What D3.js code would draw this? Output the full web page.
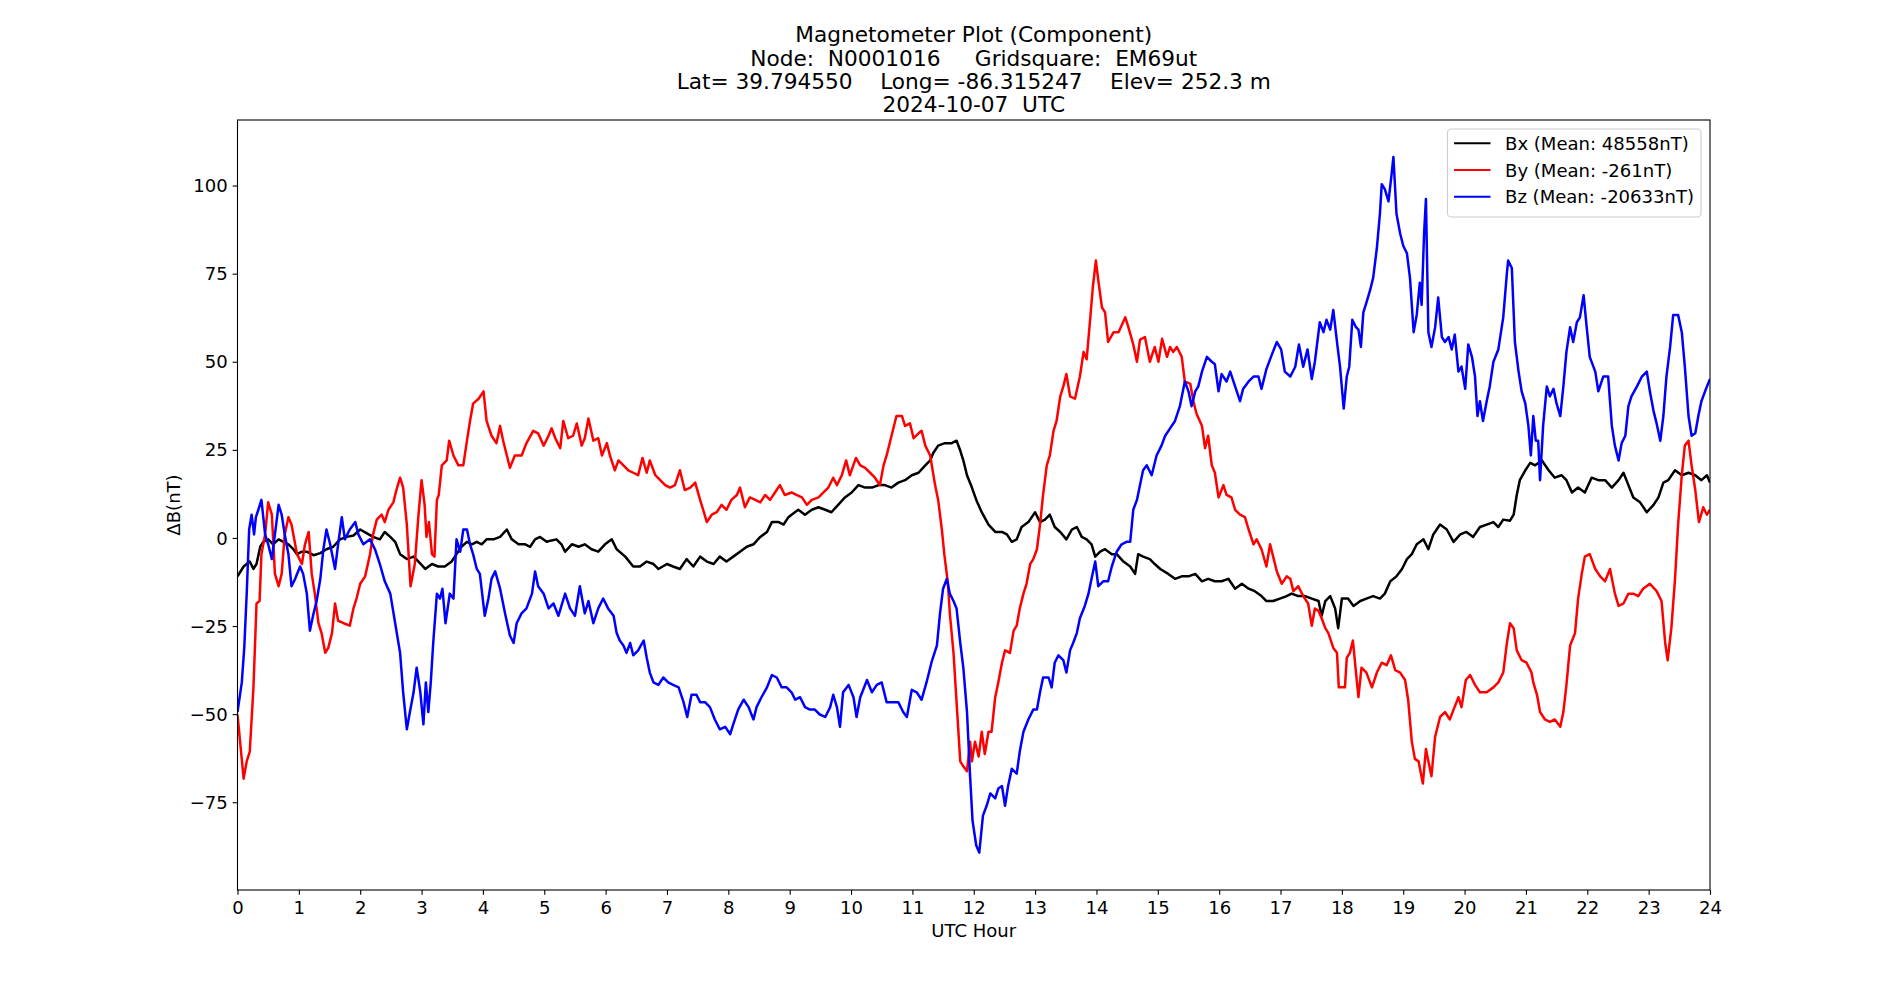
<!DOCTYPE html>
<html>
<head>
<meta charset="utf-8">
<script src="https://cdn.jsdelivr.net/npm/d3@7"></script>
<style>
  html, body { margin: 0; padding: 0; background: #ffffff; }
  svg text { font-family: "DejaVu Sans", sans-serif; fill: #000; }
</style>
</head>
<body>
<svg id="chart" width="1900" height="1000"></svg>
<script>
// ---------------- DATA ----------------
const titleLines = [
  "Magnetometer Plot (Component)",
  "Node:  N0001016     Gridsquare:  EM69ut",
  "Lat= 39.794550    Long= -86.315247    Elev= 252.3 m",
  "2024-10-07  UTC"
];
const xLabel = "UTC Hour";
const yLabel = "\u0394B(nT)";
const xTicks = d3.range(0, 25, 1);
const yTicks = [-75, -50, -25, 0, 25, 50, 75, 100];
const seriesNames = ["Bx (Mean: 48558nT)", "By (Mean: -261nT)", "Bz (Mean: -20633nT)"];
const seriesColors = ["#000000", "#ff0000", "#0000ff"];

// [UTC hour, delta B (nT)]
const bx = [[0.00,-10.9],[0.10,-8.1],[0.20,-6.7],[0.26,-8.8],[0.31,-7.4],[0.37,-2.5],[0.42,-1.1],[0.50,-0.4],[0.58,-1.8],[0.67,-0.4],[0.75,-1.1],[0.83,-1.8],[0.91,-3.2],[0.97,-4.6],[1.05,-3.9],[1.13,-3.9],[1.24,-4.9],[1.35,-4.3],[1.45,-3.2],[1.56,-2.5],[1.67,-0.4],[1.78,0.3],[1.89,0.7],[2.00,2.4],[2.11,1.3],[2.21,0.3],[2.32,-0.4],[2.40,1.7],[2.49,0.3],[2.57,-1.1],[2.65,-4.6],[2.76,-6.0],[2.87,-5.3],[2.95,-6.7],[3.06,-8.8],[3.17,-7.4],[3.27,-8.1],[3.38,-8.1],[3.49,-6.7],[3.57,-4.6],[3.65,-2.5],[3.74,-1.1],[3.82,-1.8],[3.90,-1.1],[3.98,-1.8],[4.06,-0.4],[4.17,-0.4],[4.28,0.3],[4.39,2.4],[4.47,-0.4],[4.58,-1.8],[4.69,-1.8],[4.77,-2.5],[4.85,-0.4],[4.93,0.3],[5.04,-1.1],[5.12,-0.7],[5.20,-0.4],[5.28,-1.8],[5.34,-3.9],[5.45,-1.8],[5.56,-2.5],[5.66,-1.8],[5.77,-3.2],[5.88,-3.9],[5.99,-1.8],[6.10,-0.4],[6.18,-3.2],[6.32,-5.3],[6.45,-8.1],[6.56,-8.1],[6.67,-6.7],[6.78,-7.4],[6.86,-8.8],[7.00,-7.4],[7.10,-8.1],[7.21,-8.8],[7.32,-6.0],[7.43,-8.1],[7.54,-5.3],[7.65,-6.7],[7.76,-7.4],[7.86,-5.3],[7.97,-6.7],[8.08,-5.3],[8.19,-3.9],[8.30,-2.5],[8.41,-1.8],[8.52,0.3],[8.63,1.7],[8.71,4.5],[8.82,4.5],[8.90,3.8],[8.98,5.9],[9.03,6.6],[9.14,8.0],[9.25,6.6],[9.36,8.0],[9.47,8.7],[9.58,8.0],[9.68,7.3],[9.79,9.4],[9.90,11.5],[10.01,12.9],[10.12,15.0],[10.23,14.3],[10.34,14.3],[10.45,15.0],[10.55,15.0],[10.66,14.3],[10.77,15.7],[10.88,16.4],[10.99,17.8],[11.10,18.5],[11.21,20.6],[11.29,22.0],[11.34,24.1],[11.42,26.2],[11.53,26.9],[11.64,26.9],[11.72,27.6],[11.78,24.8],[11.83,22.0],[11.89,17.8],[11.97,14.3],[12.05,10.4],[12.13,7.3],[12.24,3.8],[12.35,1.7],[12.46,1.7],[12.54,1.0],[12.62,-1.1],[12.70,-0.4],[12.78,3.1],[12.89,4.5],[13.00,7.3],[13.08,4.5],[13.16,5.2],[13.24,6.6],[13.32,3.1],[13.41,1.7],[13.51,-0.4],[13.60,2.4],[13.68,3.1],[13.76,0.3],[13.84,-0.4],[13.92,-1.8],[13.98,-5.3],[14.06,-3.9],[14.14,-3.2],[14.25,-4.6],[14.33,-4.6],[14.44,-6.7],[14.55,-8.1],[14.63,-10.2],[14.68,-4.6],[14.76,-5.3],[14.87,-6.0],[14.95,-7.4],[15.04,-8.8],[15.17,-10.2],[15.28,-11.6],[15.39,-10.9],[15.50,-10.9],[15.61,-10.2],[15.72,-12.3],[15.82,-11.6],[15.93,-12.3],[16.04,-12.3],[16.15,-11.6],[16.26,-14.4],[16.37,-13.0],[16.48,-14.4],[16.58,-15.1],[16.69,-16.5],[16.77,-17.9],[16.88,-17.9],[16.99,-17.2],[17.10,-16.5],[17.18,-15.8],[17.29,-16.5],[17.40,-16.5],[17.51,-17.2],[17.62,-17.9],[17.67,-22.1],[17.73,-17.9],[17.81,-16.5],[17.89,-20.0],[17.94,-25.6],[18.00,-17.2],[18.10,-17.2],[18.19,-19.3],[18.30,-17.9],[18.40,-17.2],[18.51,-16.5],[18.62,-17.2],[18.70,-15.8],[18.79,-12.3],[18.89,-10.9],[18.98,-8.8],[19.06,-6.0],[19.14,-4.6],[19.22,-1.8],[19.33,-0.4],[19.41,-3.2],[19.49,1.0],[19.60,3.8],[19.71,2.4],[19.82,-1.1],[19.93,1.0],[20.03,1.7],[20.14,0.3],[20.25,3.1],[20.36,3.8],[20.47,4.5],[20.55,3.1],[20.63,5.2],[20.74,4.9],[20.80,6.6],[20.85,12.2],[20.90,16.4],[20.99,19.2],[21.07,21.3],[21.15,20.6],[21.26,22.0],[21.37,19.2],[21.47,17.1],[21.58,17.8],[21.66,16.4],[21.75,12.9],[21.85,14.3],[21.96,12.9],[22.07,17.1],[22.18,16.4],[22.29,16.4],[22.40,14.3],[22.51,16.4],[22.59,18.5],[22.67,15.0],[22.75,11.5],[22.86,10.1],[22.97,7.3],[23.08,9.4],[23.16,11.5],[23.24,15.7],[23.32,16.4],[23.43,19.2],[23.54,17.8],[23.65,18.5],[23.76,17.8],[23.86,16.4],[23.95,17.8],[24.00,15.7]];

const by = [[0.00,-50.1],[0.10,-68.3],[0.15,-63.4],[0.20,-60.6],[0.26,-42.4],[0.31,-18.6],[0.36,-17.9],[0.39,-4.6],[0.45,1.0],[0.50,10.1],[0.56,6.6],[0.61,-10.2],[0.67,-13.7],[0.72,-10.2],[0.77,1.0],[0.83,5.9],[0.88,3.8],[0.97,-4.6],[1.05,-7.4],[1.10,-1.8],[1.16,1.7],[1.21,-10.2],[1.26,-15.8],[1.32,-24.2],[1.37,-27.0],[1.43,-32.6],[1.48,-31.2],[1.54,-27.0],[1.59,-18.6],[1.64,-23.5],[1.73,-24.2],[1.83,-24.9],[1.89,-20.0],[1.94,-17.2],[2.00,-13.0],[2.08,-10.9],[2.16,-4.6],[2.21,1.0],[2.27,5.2],[2.35,6.6],[2.40,4.5],[2.46,8.0],[2.54,10.1],[2.59,13.6],[2.65,17.1],[2.70,14.3],[2.76,3.8],[2.82,-13.7],[2.89,-7.4],[2.95,6.6],[3.00,16.4],[3.05,9.4],[3.08,0.3],[3.12,4.5],[3.17,-4.6],[3.21,-5.3],[3.25,10.8],[3.28,12.2],[3.33,20.6],[3.41,22.0],[3.45,27.6],[3.52,23.4],[3.60,20.6],[3.68,20.6],[3.74,27.6],[3.79,33.2],[3.84,38.1],[3.93,39.5],[4.01,41.6],[4.06,33.2],[4.14,29.0],[4.22,26.9],[4.28,31.8],[4.33,27.6],[4.39,23.4],[4.44,19.9],[4.52,23.4],[4.63,23.4],[4.71,26.9],[4.82,30.4],[4.90,29.7],[4.99,26.2],[5.07,29.0],[5.12,31.1],[5.18,28.3],[5.26,25.5],[5.31,33.2],[5.39,28.3],[5.47,29.0],[5.53,32.5],[5.61,26.2],[5.66,28.3],[5.72,33.9],[5.80,27.6],[5.88,28.3],[5.94,23.4],[6.02,26.9],[6.07,23.4],[6.15,19.2],[6.21,22.0],[6.29,20.6],[6.37,19.2],[6.45,18.5],[6.53,17.8],[6.60,22.7],[6.67,18.5],[6.72,22.0],[6.81,17.8],[6.89,16.4],[6.97,15.0],[7.05,14.3],[7.13,15.0],[7.21,19.2],[7.29,13.6],[7.38,14.3],[7.46,15.7],[7.54,10.8],[7.59,8.0],[7.65,4.5],[7.73,6.6],[7.81,7.3],[7.89,9.4],[7.97,8.0],[8.05,10.8],[8.14,12.2],[8.19,14.3],[8.27,8.7],[8.35,11.5],[8.44,10.8],[8.52,10.1],[8.60,12.2],[8.68,10.8],[8.76,12.9],[8.84,15.0],[8.92,12.2],[9.03,12.9],[9.11,12.2],[9.20,11.5],[9.28,9.4],[9.36,10.8],[9.47,11.5],[9.55,12.9],[9.63,14.3],[9.71,17.1],[9.77,15.0],[9.85,17.8],[9.92,22.0],[9.98,17.8],[10.08,22.7],[10.15,20.6],[10.23,19.9],[10.31,18.5],[10.39,17.1],[10.47,15.0],[10.53,20.6],[10.58,23.4],[10.66,29.0],[10.74,34.6],[10.83,34.6],[10.88,31.8],[10.96,32.5],[11.02,28.3],[11.10,29.7],[11.15,30.4],[11.21,26.2],[11.29,23.4],[11.37,15.0],[11.42,10.8],[11.48,2.4],[11.52,-4.6],[11.58,-13.0],[11.61,-21.4],[11.67,-32.6],[11.72,-46.6],[11.78,-63.4],[11.83,-64.8],[11.89,-66.2],[11.94,-57.8],[11.97,-63.4],[12.02,-57.8],[12.08,-62.0],[12.13,-55.0],[12.18,-61.3],[12.24,-55.0],[12.29,-55.0],[12.35,-45.2],[12.40,-41.0],[12.46,-35.4],[12.51,-31.9],[12.59,-32.6],[12.65,-26.3],[12.70,-24.9],[12.75,-20.0],[12.81,-15.8],[12.86,-13.0],[12.92,-7.4],[12.97,-6.0],[13.03,-3.2],[13.08,3.8],[13.13,12.2],[13.19,20.6],[13.24,23.4],[13.30,30.4],[13.35,33.2],[13.41,40.2],[13.46,43.0],[13.51,46.5],[13.57,40.2],[13.65,39.5],[13.73,45.8],[13.79,52.8],[13.84,50.7],[13.90,62.6],[13.94,71.0],[13.99,78.7],[14.03,73.1],[14.09,65.4],[14.14,64.0],[14.19,55.6],[14.28,58.4],[14.36,58.4],[14.47,62.6],[14.52,59.8],[14.60,54.9],[14.66,50.0],[14.71,56.3],[14.79,57.0],[14.87,50.0],[14.95,54.2],[15.01,50.0],[15.07,56.5],[15.15,51.4],[15.20,54.2],[15.25,52.8],[15.31,54.2],[15.39,51.4],[15.44,44.4],[15.53,43.7],[15.58,38.8],[15.63,35.3],[15.72,31.8],[15.77,25.5],[15.82,29.0],[15.88,20.6],[15.93,18.5],[15.99,11.5],[16.07,15.0],[16.12,12.2],[16.20,11.5],[16.26,8.0],[16.34,6.6],[16.42,5.9],[16.48,2.4],[16.56,-1.8],[16.61,-0.4],[16.69,-3.2],[16.77,-8.1],[16.83,-1.8],[16.88,-5.3],[16.94,-9.5],[17.02,-13.0],[17.10,-10.9],[17.16,-11.6],[17.21,-15.1],[17.29,-13.7],[17.37,-16.5],[17.45,-18.6],[17.51,-24.9],[17.56,-20.0],[17.62,-20.7],[17.67,-22.8],[17.73,-25.6],[17.78,-27.0],[17.86,-31.2],[17.92,-32.6],[17.95,-42.4],[18.00,-42.4],[18.05,-42.4],[18.08,-34.0],[18.13,-32.6],[18.18,-29.1],[18.23,-38.2],[18.27,-45.2],[18.32,-36.8],[18.40,-38.2],[18.49,-42.4],[18.57,-38.2],[18.65,-35.4],[18.73,-36.1],[18.80,-33.3],[18.87,-37.5],[18.95,-38.2],[19.03,-40.3],[19.08,-45.9],[19.14,-57.8],[19.19,-62.7],[19.25,-63.4],[19.32,-69.7],[19.37,-59.9],[19.41,-63.4],[19.46,-67.6],[19.52,-56.4],[19.60,-50.8],[19.68,-49.4],[19.76,-51.5],[19.82,-48.7],[19.90,-45.2],[19.95,-48.0],[20.02,-40.3],[20.09,-38.9],[20.17,-41.7],[20.25,-43.8],[20.36,-43.8],[20.47,-42.4],[20.55,-41.0],[20.63,-38.2],[20.69,-29.8],[20.74,-24.2],[20.80,-25.6],[20.85,-31.9],[20.93,-34.7],[21.01,-35.4],[21.09,-38.2],[21.12,-41.0],[21.18,-44.5],[21.23,-49.4],[21.31,-51.5],[21.39,-52.2],[21.47,-51.5],[21.56,-53.6],[21.61,-49.4],[21.66,-41.7],[21.72,-30.5],[21.80,-27.0],[21.85,-17.2],[21.91,-10.2],[21.96,-5.3],[22.04,-4.6],[22.13,-8.8],[22.21,-10.9],[22.29,-12.3],[22.37,-8.8],[22.45,-15.8],[22.51,-19.3],[22.59,-18.6],[22.67,-15.8],[22.75,-15.8],[22.83,-16.5],[22.91,-14.4],[23.02,-13.0],[23.13,-15.1],[23.21,-17.9],[23.27,-29.8],[23.31,-34.7],[23.37,-25.6],[23.43,-11.6],[23.48,3.8],[23.54,17.8],[23.59,26.2],[23.65,27.6],[23.70,20.6],[23.76,13.6],[23.82,4.5],[23.89,8.7],[23.95,6.6],[24.00,8.0]];

const bz = [[0.00,-49.4],[0.07,-41.0],[0.11,-31.2],[0.15,-15.8],[0.19,2.4],[0.23,6.6],[0.27,1.0],[0.30,5.9],[0.34,8.0],[0.39,10.8],[0.45,1.0],[0.50,-1.8],[0.56,-6.0],[0.61,1.0],[0.67,9.4],[0.72,6.6],[0.77,1.0],[0.83,-4.6],[0.88,-13.7],[0.94,-11.6],[1.02,-8.1],[1.07,-10.2],[1.13,-15.8],[1.18,-26.3],[1.24,-21.4],[1.29,-17.9],[1.35,-11.6],[1.40,-3.2],[1.45,2.4],[1.51,-1.8],[1.59,-8.8],[1.64,-1.8],[1.70,5.9],[1.75,-0.4],[1.83,2.4],[1.92,4.5],[1.97,1.0],[2.05,-1.8],[2.16,-0.4],[2.24,-3.2],[2.32,-7.4],[2.40,-12.3],[2.49,-15.8],[2.57,-24.2],[2.65,-32.6],[2.70,-43.8],[2.76,-54.3],[2.81,-49.4],[2.87,-43.8],[2.92,-36.8],[2.98,-43.8],[3.03,-52.9],[3.07,-41.0],[3.11,-49.4],[3.15,-41.0],[3.19,-29.8],[3.25,-15.8],[3.30,-17.2],[3.34,-14.4],[3.39,-24.2],[3.46,-15.8],[3.52,-17.2],[3.57,-0.4],[3.63,-3.9],[3.68,2.4],[3.74,2.4],[3.79,-1.8],[3.84,-4.6],[3.90,-8.8],[3.95,-10.2],[4.03,-22.1],[4.09,-17.2],[4.14,-11.6],[4.20,-9.5],[4.28,-14.4],[4.36,-21.4],[4.44,-27.7],[4.50,-29.8],[4.55,-24.2],[4.63,-21.4],[4.71,-20.0],[4.80,-15.8],[4.85,-9.5],[4.90,-13.7],[4.99,-15.8],[5.07,-20.0],[5.15,-18.6],[5.23,-22.1],[5.34,-15.8],[5.42,-20.0],[5.50,-22.1],[5.58,-13.7],[5.66,-21.4],[5.72,-17.9],[5.80,-24.2],[5.88,-20.0],[5.96,-17.2],[6.04,-20.0],[6.13,-22.1],[6.18,-27.0],[6.23,-29.1],[6.29,-30.5],[6.34,-32.6],[6.40,-29.8],[6.45,-33.3],[6.53,-31.9],[6.62,-29.1],[6.67,-34.0],[6.72,-38.2],[6.78,-41.0],[6.86,-41.7],[6.94,-39.6],[7.02,-41.0],[7.10,-41.7],[7.19,-42.4],[7.27,-46.6],[7.33,-50.8],[7.40,-44.5],[7.48,-44.5],[7.54,-46.6],[7.62,-46.6],[7.70,-48.0],[7.78,-51.5],[7.86,-54.3],[7.95,-53.6],[8.03,-55.7],[8.08,-52.9],[8.16,-48.7],[8.25,-45.9],[8.33,-48.0],[8.41,-51.5],[8.46,-48.0],[8.54,-45.2],[8.63,-42.4],[8.71,-38.9],[8.79,-39.6],[8.87,-42.4],[8.95,-42.4],[9.03,-43.8],[9.09,-45.9],[9.17,-45.2],[9.25,-48.0],[9.33,-48.7],[9.41,-48.7],[9.49,-50.1],[9.58,-50.8],[9.66,-48.0],[9.71,-44.5],[9.77,-48.0],[9.82,-53.6],[9.87,-43.8],[9.96,-41.7],[10.04,-45.2],[10.09,-50.8],[10.15,-45.2],[10.26,-40.3],[10.34,-43.8],[10.42,-41.7],[10.50,-41.0],[10.58,-46.6],[10.66,-46.6],[10.77,-46.6],[10.85,-49.4],[10.91,-50.8],[10.99,-43.1],[11.07,-43.8],[11.15,-45.9],[11.23,-41.0],[11.31,-35.4],[11.40,-30.5],[11.45,-21.4],[11.50,-14.4],[11.56,-11.6],[11.61,-15.8],[11.67,-17.9],[11.72,-20.0],[11.78,-29.8],[11.83,-36.8],[11.89,-49.4],[11.94,-67.6],[11.98,-80.2],[12.04,-87.2],[12.09,-89.3],[12.15,-78.8],[12.21,-76.0],[12.27,-72.5],[12.35,-73.9],[12.40,-71.1],[12.46,-70.4],[12.51,-76.0],[12.56,-70.4],[12.62,-65.5],[12.70,-66.9],[12.75,-60.6],[12.81,-55.0],[12.89,-51.5],[12.97,-48.7],[13.03,-48.7],[13.08,-43.8],[13.13,-39.6],[13.22,-39.6],[13.27,-42.4],[13.32,-35.4],[13.38,-33.3],[13.46,-34.7],[13.51,-38.2],[13.57,-31.9],[13.62,-29.8],[13.68,-27.0],[13.73,-22.8],[13.81,-19.3],[13.87,-15.8],[13.92,-11.6],[13.98,-6.7],[14.03,-13.7],[14.11,-12.3],[14.19,-12.3],[14.25,-8.1],[14.33,-3.9],[14.41,-1.8],[14.49,-1.1],[14.55,-1.1],[14.60,8.0],[14.66,10.8],[14.71,15.0],[14.76,19.2],[14.82,20.6],[14.90,17.8],[14.98,23.4],[15.06,26.2],[15.12,29.0],[15.20,31.1],[15.28,33.2],[15.36,37.4],[15.44,44.4],[15.50,41.6],[15.55,37.4],[15.61,41.6],[15.66,43.0],[15.72,47.2],[15.80,51.4],[15.88,50.0],[15.93,49.3],[15.99,41.6],[16.04,46.5],[16.12,44.4],[16.18,47.2],[16.26,43.0],[16.34,38.8],[16.39,42.3],[16.48,44.4],[16.56,45.8],[16.64,45.8],[16.69,42.3],[16.77,47.9],[16.86,52.1],[16.94,55.6],[17.01,53.5],[17.07,47.2],[17.16,45.8],[17.24,48.6],[17.30,54.9],[17.37,48.6],[17.44,53.5],[17.51,45.1],[17.56,50.0],[17.64,61.2],[17.70,58.4],[17.75,61.9],[17.81,59.1],[17.86,64.7],[17.93,54.2],[17.97,48.6],[18.03,36.7],[18.08,45.8],[18.12,48.6],[18.17,61.9],[18.23,59.8],[18.27,59.1],[18.31,54.2],[18.35,64.0],[18.40,66.8],[18.46,70.3],[18.51,73.8],[18.57,82.2],[18.62,92.0],[18.65,100.4],[18.70,99.0],[18.76,95.5],[18.81,103.2],[18.84,108.1],[18.89,92.0],[18.95,86.4],[19.00,82.9],[19.06,80.8],[19.11,73.8],[19.17,58.4],[19.22,63.3],[19.27,72.4],[19.30,66.1],[19.34,86.4],[19.37,96.2],[19.41,58.4],[19.46,54.2],[19.52,59.8],[19.57,68.2],[19.63,57.0],[19.68,55.6],[19.74,57.0],[19.79,53.5],[19.84,57.7],[19.90,47.2],[19.95,48.6],[20.01,42.3],[20.06,54.9],[20.12,51.4],[20.17,45.8],[20.21,34.6],[20.25,38.8],[20.30,33.2],[20.36,38.8],[20.41,43.0],[20.47,50.0],[20.55,53.5],[20.63,62.6],[20.69,75.2],[20.71,78.7],[20.77,76.6],[20.82,55.6],[20.88,47.2],[20.93,41.6],[20.99,38.1],[21.04,31.8],[21.08,23.4],[21.12,34.6],[21.16,27.6],[21.20,27.6],[21.23,16.4],[21.28,31.8],[21.34,43.0],[21.39,40.2],[21.45,42.3],[21.50,38.1],[21.56,34.6],[21.61,43.0],[21.66,52.8],[21.72,59.8],[21.77,55.6],[21.83,61.2],[21.88,62.6],[21.94,68.9],[21.99,59.8],[22.04,51.4],[22.13,47.2],[22.18,41.6],[22.26,45.8],[22.34,45.8],[22.40,31.8],[22.45,26.2],[22.51,22.0],[22.56,26.9],[22.62,29.0],[22.67,37.4],[22.72,40.2],[22.81,43.0],[22.89,45.8],[22.97,47.2],[23.02,41.6],[23.08,36.0],[23.13,32.5],[23.19,27.6],[23.24,34.6],[23.29,45.8],[23.35,54.2],[23.40,63.3],[23.48,63.3],[23.54,58.4],[23.59,48.6],[23.65,34.6],[23.70,29.0],[23.76,29.7],[23.81,34.6],[23.86,38.8],[23.95,43.0],[24.00,45.1]];

const seriesData = [bx, by, bz];

// ---------------- LAYOUT ----------------
const W = 1900, H = 1000;
const plot = { left: 237.5, right: 1710, top: 120, bottom: 890 };
const fs = 18.06;       // 13pt
const titleFs = 21.67;  // 15.6pt

const svg = d3.select("#chart");
svg.append("rect").attr("width", W).attr("height", H).attr("fill", "#ffffff");

const x = d3.scaleLinear().domain([0, 24]).range([plot.left, plot.right]);
const y = d3.scaleLinear().domain([-99.9, 118.6]).range([plot.bottom, plot.top]);

svg.append("defs").append("clipPath").attr("id", "clip")
  .append("rect")
  .attr("x", plot.left).attr("y", plot.top)
  .attr("width", plot.right - plot.left).attr("height", plot.bottom - plot.top);

// lines
const line = d3.line().x(d => x(d[0])).y(d => y(d[1]));
const gLines = svg.append("g").attr("clip-path", "url(#clip)");
seriesData.forEach((data, i) => {
  gLines.append("path")
    .datum(data)
    .attr("d", line)
    .attr("fill", "none")
    .attr("stroke", seriesColors[i])
    .attr("stroke-width", 2.5)
    .attr("stroke-linejoin", "round")
    .attr("stroke-linecap", "butt");
});

// axes
const fmtY = d => (d < 0 ? "\u2212" + Math.abs(d) : String(d));
const xAxis = d3.axisBottom(x).tickValues(xTicks).tickSize(4.86).tickPadding(4.86).tickSizeOuter(0).tickFormat(d3.format("d"));
const yAxis = d3.axisLeft(y).tickValues(yTicks).tickSize(4.86).tickPadding(4.86).tickSizeOuter(0).tickFormat(fmtY);

const gx = svg.append("g").attr("transform", `translate(0,${plot.bottom})`).call(xAxis);
const gy = svg.append("g").attr("transform", `translate(${plot.left},0)`).call(yAxis);
[gx, gy].forEach(g => {
  g.select(".domain").remove();
  g.selectAll(".tick line").attr("stroke", "#000").attr("stroke-width", 1.1);
  g.selectAll(".tick text")
    .attr("fill", "#000")
    .style("font-family", "'DejaVu Sans', sans-serif")
    .style("font-size", fs + "px");
});
gx.selectAll(".tick text").attr("dy", "0.78em");
gy.selectAll(".tick text").attr("dy", "0.34em");

// spines
svg.append("rect")
  .attr("x", plot.left).attr("y", plot.top)
  .attr("width", plot.right - plot.left).attr("height", plot.bottom - plot.top)
  .attr("fill", "none").attr("stroke", "#000").attr("stroke-width", 1.1);

// axis labels
svg.append("text")
  .attr("x", (plot.left + plot.right) / 2).attr("y", 937)
  .attr("text-anchor", "middle").style("font-size", fs + "px")
  .text(xLabel);
svg.append("text")
  .attr("transform", `translate(179.5,${(plot.top + plot.bottom) / 2}) rotate(-90)`)
  .attr("text-anchor", "middle").style("font-size", fs + "px")
  .text(yLabel);

// title
const titleBaselines = [42.2, 65.5, 88.8, 112.0];
const gTitle = svg.append("g");
titleLines.forEach((t, i) => {
  gTitle.append("text")
    .attr("x", (plot.left + plot.right) / 2)
    .attr("y", titleBaselines[i])
    .attr("text-anchor", "middle")
    .attr("xml:space", "preserve")
    .style("white-space", "pre")
    .style("font-size", titleFs + "px")
    .text(t);
});

// legend
const lg = svg.append("g");
lg.append("rect")
  .attr("x", 1447.5).attr("y", 129).attr("width", 253.5).attr("height", 88)
  .attr("rx", 3.6).attr("ry", 3.6)
  .attr("fill", "#ffffff").attr("fill-opacity", 0.8)
  .attr("stroke", "#cccccc").attr("stroke-width", 1.1);
const rowY = [143.3, 170.0, 196.7];
seriesNames.forEach((name, i) => {
  lg.append("line")
    .attr("x1", 1454).attr("x2", 1490.5)
    .attr("y1", rowY[i]).attr("y2", rowY[i])
    .attr("stroke", seriesColors[i]).attr("stroke-width", 2.1);
  lg.append("text")
    .attr("x", 1505).attr("y", rowY[i] + 6.6)
    .style("font-size", fs + "px")
    .text(name);
});
</script>
</body>
</html>
